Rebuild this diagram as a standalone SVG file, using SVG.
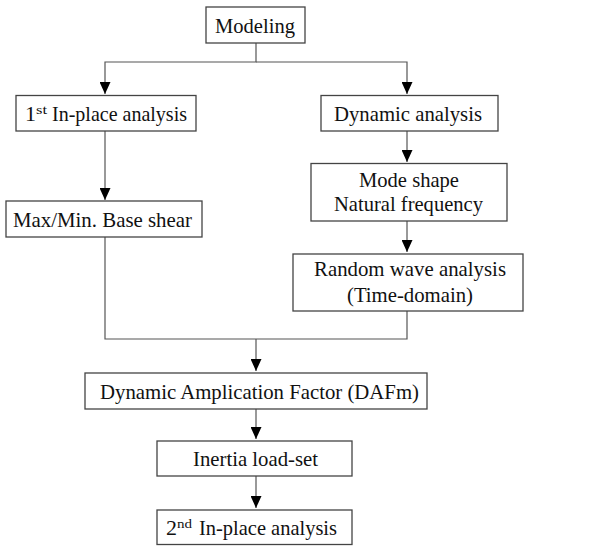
<svg xmlns="http://www.w3.org/2000/svg" width="606" height="548" viewBox="0 0 606 548">
<defs>
<style>
.box{fill:#fff;stroke:#444;stroke-width:1.3}
.t{font-family:"Liberation Serif","Times New Roman",serif;font-size:22px;fill:#111}
.sup{font-family:"Liberation Serif","Times New Roman",serif;font-size:13px;fill:#111}
.c{fill:none;stroke:#555;stroke-width:1.2}
</style>
<marker id="ah" viewBox="0 0 12 11" refX="12" refY="5.5" markerWidth="12" markerHeight="11" orient="auto" markerUnits="userSpaceOnUse">
<path d="M0,0 L12,5.5 L0,11 z" fill="#000"/>
</marker>
</defs>
<rect width="606" height="548" fill="#fff"/>
<g id="connectors">
<path class="c" d="M256,43 V62 H105 V94" marker-end="url(#ah)"/>
<path class="c" d="M256,62 H407 V94" marker-end="url(#ah)"/>
<path class="c" d="M105,131 V200" marker-end="url(#ah)"/>
<path class="c" d="M407,131 V162" marker-end="url(#ah)"/>
<path class="c" d="M407,221 V252" marker-end="url(#ah)"/>
<path class="c" d="M105,237 V339 H407 V311"/>
<path class="c" d="M256,339 V371" marker-end="url(#ah)"/>
<path class="c" d="M256,409 V439" marker-end="url(#ah)"/>
<path class="c" d="M256,476 V508" marker-end="url(#ah)"/>
</g>
<g id="modeling">
<rect class="box" x="206" y="7" width="99" height="36"/>
<text class="t" x="215" y="33" textLength="80" lengthAdjust="spacingAndGlyphs">Modeling</text>
</g>
<g id="inplace1">
<rect class="box" x="16" y="95.5" width="180" height="35.5"/>
<text class="t" x="25" y="121">1</text>
<text class="sup" x="36" y="113.5" textLength="11" lengthAdjust="spacingAndGlyphs">st</text>
<text class="t" x="52" y="121" textLength="135" lengthAdjust="spacingAndGlyphs">In-place analysis</text>
</g>
<g id="dynamic">
<rect class="box" x="321" y="95.5" width="177" height="35.5"/>
<text class="t" x="334" y="121" textLength="148" lengthAdjust="spacingAndGlyphs">Dynamic analysis</text>
</g>
<g id="maxmin">
<rect class="box" x="6" y="201" width="196" height="36"/>
<text class="t" x="13" y="226.5" textLength="179" lengthAdjust="spacingAndGlyphs">Max/Min. Base shear</text>
</g>
<g id="modeshape">
<rect class="box" x="311" y="163.5" width="196" height="57.5"/>
<text class="t" x="359" y="186.5" textLength="100" lengthAdjust="spacingAndGlyphs">Mode shape</text>
<text class="t" x="334" y="210.5" textLength="149" lengthAdjust="spacingAndGlyphs">Natural frequency</text>
</g>
<g id="randomwave">
<rect class="box" x="293" y="254" width="230" height="57"/>
<text class="t" x="314" y="275.5" textLength="192" lengthAdjust="spacingAndGlyphs">Random wave analysis</text>
<text class="t" x="347" y="302" textLength="126" lengthAdjust="spacingAndGlyphs">(Time-domain)</text>
</g>
<g id="daf">
<rect class="box" x="85" y="373" width="342" height="36"/>
<text class="t" x="100" y="398.5" textLength="319" lengthAdjust="spacingAndGlyphs">Dynamic Amplication Factor (DAFm)</text>
</g>
<g id="inertia">
<rect class="box" x="157" y="441" width="195" height="35"/>
<text class="t" x="193" y="466" textLength="125" lengthAdjust="spacingAndGlyphs">Inertia load-set</text>
</g>
<g id="inplace2">
<rect class="box" x="157" y="510" width="195" height="34.5"/>
<text class="t" x="166" y="535">2</text>
<text class="sup" x="177" y="527.5" textLength="15" lengthAdjust="spacingAndGlyphs">nd</text>
<text class="t" x="199" y="535" textLength="138" lengthAdjust="spacingAndGlyphs">In-place analysis</text>
</g>
</svg>
